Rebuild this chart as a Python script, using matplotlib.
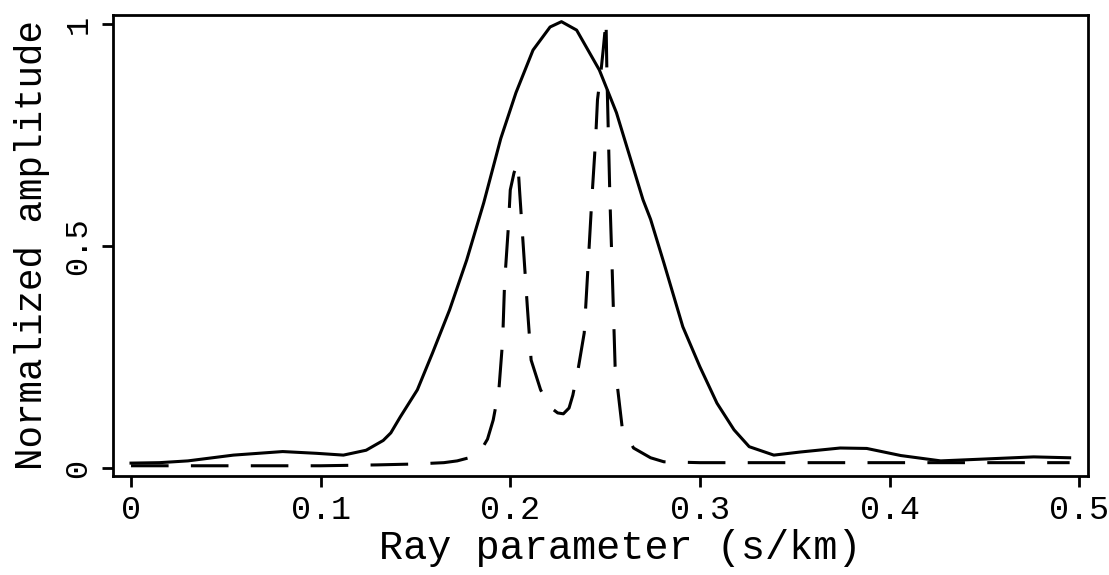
import matplotlib.pyplot as plt

# Solid curve
p_solid = [0.000, 0.015, 0.030, 0.054, 0.080, 0.098, 0.112, 0.124, 0.133, 0.137,
           0.142, 0.151, 0.159, 0.168, 0.177, 0.186, 0.195, 0.203, 0.212, 0.221,
           0.227, 0.235, 0.247, 0.256, 0.262, 0.270, 0.274, 0.281, 0.291, 0.300,
           0.309, 0.318, 0.326, 0.339, 0.353, 0.374, 0.388, 0.406, 0.427, 0.449,
           0.476, 0.495]
a_solid = [0.011, 0.012, 0.016, 0.029, 0.037, 0.033, 0.029, 0.040, 0.062, 0.079,
           0.115, 0.176, 0.259, 0.356, 0.468, 0.597, 0.742, 0.845, 0.941, 0.993,
           1.005, 0.986, 0.896, 0.800, 0.716, 0.604, 0.560, 0.462, 0.318, 0.228,
           0.146, 0.086, 0.048, 0.029, 0.036, 0.045, 0.044, 0.028, 0.016, 0.020,
           0.025, 0.023]

# Dashed curve
p_dash = [0.000, 0.050, 0.100, 0.130, 0.150, 0.165, 0.172, 0.180, 0.184, 0.188,
          0.191, 0.194, 0.196, 0.197, 0.199, 0.200, 0.202, 0.204, 0.205, 0.207,
          0.209, 0.211, 0.216, 0.221, 0.225, 0.228, 0.231, 0.233, 0.236, 0.239,
          0.241, 0.243, 0.245, 0.246, 0.248, 0.249, 0.2505, 0.251, 0.2526, 0.2537,
          0.2553, 0.259, 0.265, 0.274, 0.281, 0.300, 0.400, 0.495]
a_dash = [0.005, 0.005, 0.005, 0.007, 0.009, 0.012, 0.016, 0.025, 0.036, 0.065,
          0.108, 0.176, 0.288, 0.416, 0.543, 0.626, 0.665, 0.687, 0.619, 0.491,
          0.363, 0.243, 0.176, 0.137, 0.124, 0.122, 0.135, 0.164, 0.228, 0.304,
          0.453, 0.604, 0.739, 0.829, 0.900, 0.941, 1.009, 0.880, 0.600, 0.453,
          0.228, 0.092, 0.045, 0.023, 0.014, 0.012, 0.012, 0.012]

x_ticks = [0, 0.1, 0.2, 0.3, 0.4, 0.5]
x_ticklabels = ['0', '0.1', '0.2', '0.3', '0.4', '0.5']
y_ticks = [0, 0.5, 1]
y_ticklabels = ['0', '0.5', '1']

plt.rcParams['font.family'] = ['Liberation Mono', 'DejaVu Sans Mono']

fig = plt.figure(figsize=(11.09, 5.75), dpi=100)
ax = fig.add_axes([0.1019, 0.1722, 0.8792, 0.8017])

ax.plot(p_solid, a_solid, color='k', linewidth=2.2, linestyle='-')
ax.plot(p_dash, a_dash, color='k', linewidth=2.2, linestyle=(0, (12.3, 7.3)))

ax.set_xlim(-0.0095, 0.5047)
ax.set_ylim(-0.018, 1.02)

ax.set_xticks(x_ticks)
ax.set_xticklabels(x_ticklabels, fontsize=24)
ax.set_yticks(y_ticks)
ax.set_yticklabels(y_ticklabels, fontsize=23, rotation=90, va='center')

ax.tick_params(direction='out', length=8, width=2, pad=6)
for s in ax.spines.values():
    s.set_linewidth(2)

ax.set_xlabel('Ray parameter (s/km)', fontsize=29)
ax.xaxis.set_label_coords(0.52, -0.115)
ax.set_ylabel('Normalized amplitude', fontsize=27)
ax.yaxis.set_label_coords(-0.065, 0.5)

fig.savefig('out.png', dpi=100)
